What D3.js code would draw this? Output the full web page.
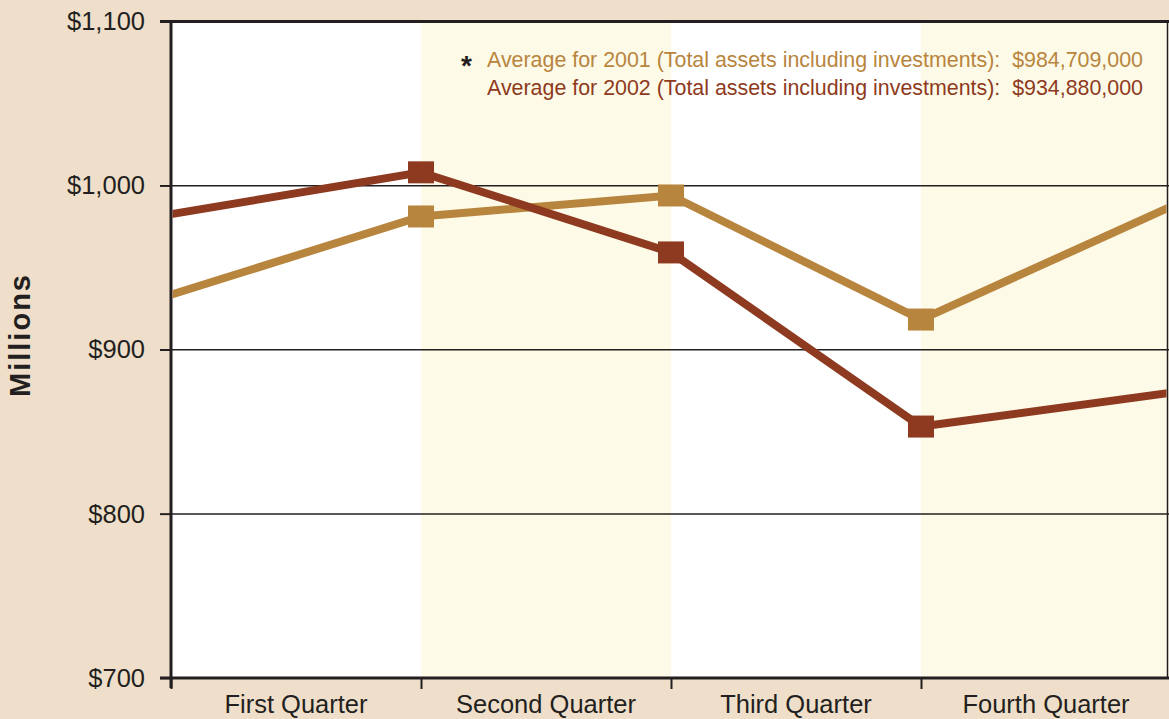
<!DOCTYPE html>
<html>
<head>
<meta charset="utf-8">
<script src="https://cdn.jsdelivr.net/npm/d3@7"></script>
<style>
  body { margin: 0; background: #efdfca; }
  svg { display: block; font-family: "Liberation Sans", Arial, sans-serif; }
</style>
</head>
<body>
<div class="chartViz"></div>
<script>
// Data (millions of dollars)
var quarters = ["First Quarter", "Second Quarter", "Third Quarter", "Fourth Quarter"]
// values at the quarter boundaries 0..4 (ends run off the plot, no marker)
var assets2001 = [933.5, 981.2, 994.0, 918.4, 987.2]
var assets2002 = [982.6, 1008.1, 959.3, 853.2, 873.8]
var yTicks = [700, 800, 900, 1000, 1100]
var legendLines = [
    "Average for 2001 (Total assets including investments):  $984,709,000",
    "Average for 2002 (Total assets including investments):  $934,880,000"
]

var colors = { a2001: "#b8853e", a2002: "#8e3a20", ink: "#231f20" }

var W = 1169, H = 719
var margin = ({ top: 21.5, right: -2, bottom: 41, left: 171 })

const svg = d3.select(".chartViz")
    .append("svg")
    .attr("width", W)
    .attr("height", H)

svg.append("rect").attr("width", W).attr("height", H).attr("fill", "#efdfca")

var x = d3.scaleLinear()
    .domain([0, quarters.length])
    .range([margin.left, W - margin.right])

var xBand = d3.scaleBand()
    .domain(quarters)
    .range([margin.left, W - margin.right])

var y = d3.scaleLinear()
    .domain([700, 1100])
    .range([H - margin.bottom, margin.top])

// background bands
svg.append("g").selectAll("rect")
    .data(quarters)
    .join("rect")
    .attr("x", d => xBand(d))
    .attr("y", margin.top)
    .attr("width", xBand.bandwidth())
    .attr("height", y(700) - margin.top)
    .attr("fill", (d, i) => i % 2 ? "#fefae8" : "#ffffff")

// gridlines
svg.append("g").selectAll("line")
    .data(yTicks.slice(1, -1))
    .join("line")
    .attr("x1", margin.left - 11)
    .attr("x2", W)
    .attr("y1", d => y(d))
    .attr("y2", d => y(d))
    .attr("stroke", colors.ink)
    .attr("stroke-width", 1.5)

// y axis labels
var yAxis = svg.append("g")
    .attr("transform", `translate(${margin.left},0)`)
    .call(d3.axisLeft(y).tickValues(yTicks).tickSize(11).tickPadding(15)
        .tickFormat(d => "$" + d3.format(",")(d)))
yAxis.select(".domain").remove()
yAxis.selectAll("line").attr("stroke", colors.ink).attr("stroke-width", 1.5)
yAxis.selectAll("text")
    .attr("font-size", 25.5)
    .attr("fill", colors.ink)
    .attr("font-family", "Liberation Sans, Arial, sans-serif")

// x axis
var xAxis = svg.append("g")
    .attr("transform", `translate(0,${y(700)})`)
    .call(d3.axisBottom(x).tickValues(d3.range(quarters.length + 1)).tickSize(11).tickFormat(""))
xAxis.select(".domain").remove()
xAxis.selectAll("line").attr("stroke", colors.ink).attr("stroke-width", 2)

svg.append("g").selectAll("text")
    .data(quarters)
    .join("text")
    .attr("x", d => xBand(d) + xBand.bandwidth() / 2)
    .attr("y", y(700) + 35)
    .attr("text-anchor", "middle")
    .attr("font-size", 25.5)
    .attr("fill", colors.ink)
    .text(d => d)

// frame lines
svg.append("line").attr("x1", margin.left - 11).attr("x2", W).attr("y1", y(700)).attr("y2", y(700))
    .attr("stroke", colors.ink).attr("stroke-width", 3)
svg.append("line").attr("x1", margin.left - 11).attr("x2", W).attr("y1", y(1100)).attr("y2", y(1100))
    .attr("stroke", colors.ink).attr("stroke-width", 3)
svg.append("line").attr("x1", margin.left).attr("x2", margin.left).attr("y1", y(1100) - 1).attr("y2", y(700) + 10)
    .attr("stroke", colors.ink).attr("stroke-width", 3)
svg.append("line").attr("x1", W - 1.5).attr("x2", W - 1.5).attr("y1", y(1100)).attr("y2", y(700))
    .attr("stroke", colors.ink).attr("stroke-width", 1.5)

// lines
svg.append("clipPath").attr("id", "plot")
    .append("rect")
    .attr("x", margin.left + 1.5).attr("y", margin.top)
    .attr("width", W - 2.5 - margin.left - 1.5)
    .attr("height", y(700) - margin.top)

var line = d3.line().x((d, i) => x(i)).y(d => y(d))

var series = [
    { key: "a2001", values: assets2001 },
    { key: "a2002", values: assets2002 }
]

var plot = svg.append("g").attr("clip-path", "url(#plot)")

series.forEach(function (s) {
    plot.append("path")
        .datum(s.values)
        .attr("d", line)
        .attr("fill", "none")
        .attr("stroke", colors[s.key])
        .attr("stroke-width", 8)
        .attr("stroke-linejoin", "miter")

    plot.append("g").selectAll("rect")
        .data(s.values.map((v, i) => [i, v]).slice(1, -1))
        .join("rect")
        .attr("x", d => x(d[0]) - 13)
        .attr("y", d => y(d[1]) - 11)
        .attr("width", 26)
        .attr("height", 22)
        .attr("fill", colors[s.key])
})

// legend
var legend = svg.append("g")
legend.append("text")
    .attr("x", 461).attr("y", 75)
    .attr("font-size", 28).attr("font-weight", "bold")
    .attr("fill", colors.ink)
    .text("*")
legend.selectAll(".leg")
    .data(legendLines)
    .join("text")
    .attr("class", "leg")
    .attr("x", 487)
    .attr("y", (d, i) => 67 + i * 28)
    .attr("font-size", 21.4)
    .attr("fill", (d, i) => i ? colors.a2002 : colors.a2001)
    .style("white-space", "pre")
    .text(d => d)

// y title
svg.append("text")
    .attr("transform", `translate(30,335) rotate(-90)`)
    .attr("text-anchor", "middle")
    .attr("font-size", 29)
    .attr("font-weight", "bold")
    .attr("letter-spacing", 2)
    .attr("fill", colors.ink)
    .attr("font-family", "Liberation Sans, Arial, sans-serif")
    .text("Millions")
</script>
</body>
</html>
